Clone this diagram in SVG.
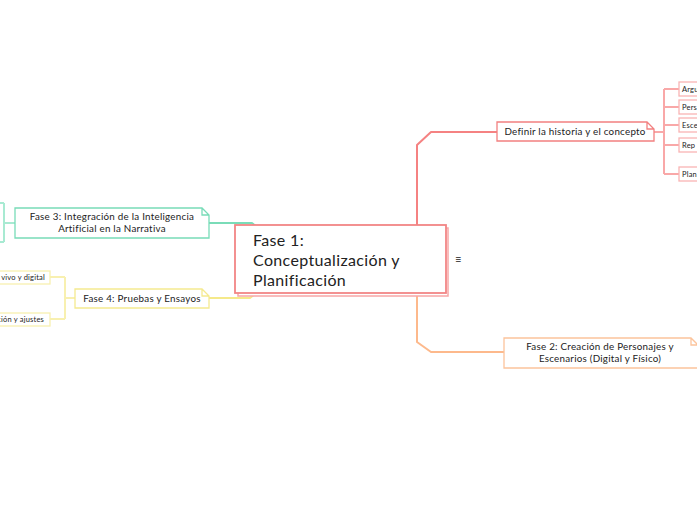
<svg xmlns="http://www.w3.org/2000/svg" width="697" height="520" viewBox="0 0 697 520">
<style>
text{font-family:"Lato","Open Sans",sans-serif;fill:#222}
.c{fill:none;stroke-width:2;stroke-linejoin:round}
.box{fill:#fff;stroke-width:1.3}
.sm{font-size:7.5px;letter-spacing:0.2px}
.md{font-size:9.8px;letter-spacing:0.25px}
.lg{font-size:16px;letter-spacing:0.35px}
</style>
<rect width="697" height="520" fill="#fff"/>
<g id="connectors">
<path class="c" stroke="#f58282" d="M417,226 V145 L431,132 H497"/>
<path class="c" stroke="#fdb98c" d="M417,294 V342 L431,352 H504"/>
<path class="c" stroke="#7adcb8" stroke-width="1.5" d="M209,223 H252 L257,227"/>
<path class="c" stroke="#f5e98a" stroke-width="1.5" d="M209,298 H250 L255,294"/>
<path class="c" stroke="#f9a8a8" stroke-width="1.2" d="M654,132 H664 M664,89 V174 M664,89 H679 M664,107 H679 M664,125 H679 M664,145 H679 M664,174 H679"/>
<path class="c" stroke="#a8ead2" stroke-width="1.2" d="M15,223 H4 M4,203 V242 M4,203 H0 M4,242 H0"/>
<path class="c" stroke="#f8f0b0" stroke-width="1.2" d="M75,298 H65 M65,277 V319 M65,277 H50 M65,319 H50"/>
</g>
<g id="main">
<rect x="238" y="228" width="210" height="68" fill="#fff" stroke="#f7a7a7" stroke-width="1.5"/>
<rect x="235" y="225" width="211" height="68" fill="#fff" stroke="#f28585" stroke-width="1.8"/>
<text class="lg" x="253" y="246">Fase 1:</text>
<text class="lg" x="253" y="266">Conceptualización y</text>
<text class="lg" x="253" y="286">Planificación</text>
<text x="455" y="263" font-size="11">≡</text>
</g>
<g id="definir">
<path class="box" stroke="#f28080" d="M497,122 H647 L654,129 V141 H497 Z M647,122 V129 H654"/>
<text class="md" x="575" y="135" text-anchor="middle">Definir la historia y el concepto</text>
</g>
<g id="sub1"><rect class="box" stroke="#f9b4b4" x="679" y="82" width="40" height="14"/><text class="sm" x="682" y="92">Argu</text></g>
<g id="sub2"><rect class="box" stroke="#f9b4b4" x="679" y="100" width="40" height="14"/><text class="sm" x="682" y="110">Pers</text></g>
<g id="sub3"><rect class="box" stroke="#f9b4b4" x="679" y="118" width="40" height="14"/><text class="sm" x="682" y="128">Esce</text></g>
<g id="sub4"><rect class="box" stroke="#f9b4b4" x="679" y="138" width="40" height="14"/><text class="sm" x="682" y="148">Rep</text></g>
<g id="sub5"><rect class="box" stroke="#f9b4b4" x="679" y="167" width="40" height="14"/><text class="sm" x="682" y="177">Plan</text></g>
<g id="fase2">
<path class="box" stroke="#fcc49c" d="M504,338 H691 L698,345 V368 H504 Z M691,338 V345 H698"/>
<text class="md" x="600" y="350" text-anchor="middle">Fase 2: Creación de Personajes y</text>
<text class="md" x="600" y="362" text-anchor="middle">Escenarios (Digital y Físico)</text>
</g>
<g id="fase3">
<path class="box" stroke="#78dcb8" d="M15,208 H202 L209,215 V238 H15 Z M202,208 V215 H209"/>
<text class="md" x="112" y="220" text-anchor="middle">Fase 3: Integración de la Inteligencia</text>
<text class="md" x="112" y="232" text-anchor="middle">Artificial en la Narrativa</text>
</g>
<g id="fase4">
<path class="box" stroke="#f5ea90" d="M75,289 H202 L209,296 V308 H75 Z M202,289 V296 H209"/>
<text class="md" x="142" y="302" text-anchor="middle">Fase 4: Pruebas y Ensayos</text>
</g>
<g id="f4a"><rect class="box" stroke="#f8f0b0" x="-20" y="271" width="70" height="13"/><text class="sm" x="45" y="280" text-anchor="end">vivo y digital</text></g>
<g id="f4b"><rect class="box" stroke="#f8f0b0" x="-20" y="313" width="70" height="13"/><text class="sm" x="44" y="322" text-anchor="end">ción y ajustes</text></g>
</svg>
